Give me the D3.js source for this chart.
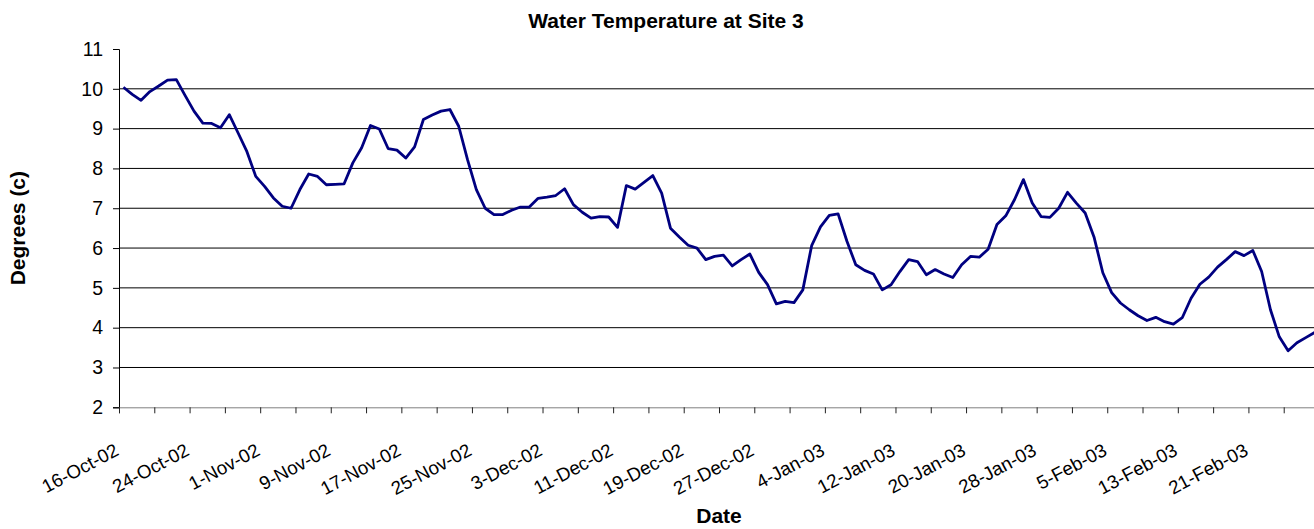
<!DOCTYPE html>
<html>
<head>
<meta charset="utf-8">
<script src="https://cdn.jsdelivr.net/npm/d3@7"></script>
<style>
  body { margin: 0; background: #fff; }
  text { font-family: Arial, "Liberation Sans", sans-serif; fill: #000; }
</style>
</head>
<body>
<div id="chart"></div>
<script>
// daily readings, first day 16-Oct-02
const firstDay = "2002-10-16";
const temps = [
  10.04, 9.86, 9.71, 9.93, 10.07, 10.22, 10.23, 9.83, 9.44, 9.14,
  9.13, 9.02, 9.35, 8.89, 8.42, 7.80, 7.55, 7.26, 7.05, 7.00,
  7.47, 7.86, 7.80, 7.59, 7.60, 7.61, 8.14, 8.52, 9.08, 8.99,
  8.50, 8.46, 8.26, 8.54, 9.23, 9.34, 9.44, 9.48, 9.06, 8.22,
  7.47, 7.00, 6.84, 6.84, 6.95, 7.03, 7.03, 7.25, 7.28, 7.32,
  7.49, 7.09, 6.90, 6.75, 6.79, 6.78, 6.52, 7.57, 7.48, 7.65,
  7.82, 7.38, 6.50, 6.28, 6.07, 6.00, 5.71, 5.79, 5.82, 5.55,
  5.71, 5.85, 5.39, 5.08, 4.60, 4.66, 4.63, 4.95, 6.06, 6.53,
  6.82, 6.86, 6.17, 5.58, 5.44, 5.35, 4.95, 5.08, 5.41, 5.71,
  5.66, 5.33, 5.46, 5.35, 5.26, 5.58, 5.79, 5.77, 5.97, 6.59,
  6.81, 7.22, 7.72, 7.13, 6.79, 6.77, 7.00, 7.40, 7.13, 6.88,
  6.28, 5.38, 4.88, 4.62, 4.45, 4.30, 4.18, 4.26, 4.15, 4.09,
  4.25, 4.74, 5.09, 5.27, 5.52, 5.71, 5.91, 5.81, 5.94, 5.41,
  4.45, 3.77, 3.42, 3.62, 3.75, 3.88
];
const yTicks = [2, 3, 4, 5, 6, 7, 8, 9, 10, 11];
const gridValues = [3, 4, 5, 6, 7, 8, 9, 10];
const tickEveryDays = 4;
const labelEveryDays = 8;

const width = 1314,
      height = 529;
const margin = { left: 119, top: 49, bottom: 407.3 };
const plotRight = 1319;   // plot runs slightly past the picture edge

const start = d3.isoParse(firstDay);
const dates = temps.map((t, i) => d3.utcDay.offset(start, i));
const end = d3.utcDay.offset(start, temps.length);

const svg = d3.select("#chart")
  .append("svg")
  .attr("width", width)
  .attr("height", height)
  .attr("viewBox", `0 0 ${width} ${height}`);

const x = d3.scaleUtc().domain([start, end]).range([margin.left, plotRight]);
const y = d3.scaleLinear().domain([2, 11]).range([margin.bottom, margin.top]);

// gridlines
svg.append("g")
  .selectAll("line")
  .data(gridValues)
  .join("line")
  .attr("x1", margin.left)
  .attr("x2", plotRight)
  .attr("y1", d => y(d))
  .attr("y2", d => y(d))
  .attr("stroke", "#000")
  .attr("stroke-width", 1);

// y axis
const yAxis = svg.append("g")
  .attr("transform", `translate(${margin.left},0)`)
  .call(d3.axisLeft(y).tickValues(yTicks).tickSize(6).tickPadding(10).tickFormat(d3.format("d")));
yAxis.select(".domain").attr("stroke", "#000");
yAxis.selectAll(".tick line").attr("stroke", "#000");
yAxis.selectAll("text").attr("font-size", 19.5).attr("font-family", "Arial, 'Liberation Sans', sans-serif");

// x axis: ticks every 4 days, labels every 8
const tickDates = d3.range(0, temps.length + 1, tickEveryDays).map(i => d3.utcDay.offset(start, i));
const fmt = d3.utcFormat("%-d-%b-%y");
const xAxis = svg.append("g")
  .attr("transform", `translate(0,${margin.bottom})`)
  .call(d3.axisBottom(x).tickValues(tickDates).tickSize(6).tickFormat(""));
xAxis.select(".domain").attr("stroke", "#808080");
xAxis.selectAll(".tick line").attr("stroke", "#222");

const labelDates = tickDates.filter(d => {
  const n = d3.utcDay.count(start, d);
  return n % labelEveryDays === 0 && n < temps.length;
});
svg.append("g")
  .selectAll("text")
  .data(labelDates)
  .join("text")
  .attr("text-anchor", "end")
  .attr("font-size", 18.8)
  .attr("transform", d => `translate(${x(d) + 1},${margin.bottom + 47}) rotate(-28)`)
  .text(d => fmt(d));

// temperature line, points sit in the middle of each day
const line = d3.line()
  .x((d, i) => x(dates[i]) + (x(d3.utcDay.offset(start, 1)) - x(start)) / 2)
  .y(d => y(d));

svg.append("path")
  .datum(temps)
  .attr("d", line)
  .attr("fill", "none")
  .attr("stroke", "#000080")
  .attr("stroke-width", 2.8)
  .attr("stroke-linejoin", "round");

// titles
svg.append("text")
  .attr("x", 666)
  .attr("y", 28)
  .attr("text-anchor", "middle")
  .attr("font-size", 21)
  .attr("font-weight", "bold")
  .text("Water Temperature at Site 3");

svg.append("text")
  .attr("x", (margin.left + plotRight) / 2)
  .attr("y", 523)
  .attr("text-anchor", "middle")
  .attr("font-size", 21)
  .attr("font-weight", "bold")
  .text("Date");

svg.append("text")
  .attr("transform", `translate(25,${(margin.top + margin.bottom) / 2}) rotate(-90)`)
  .attr("text-anchor", "middle")
  .attr("font-size", 21)
  .attr("font-weight", "bold")
  .text("Degrees (c)");
</script>
</body>
</html>
